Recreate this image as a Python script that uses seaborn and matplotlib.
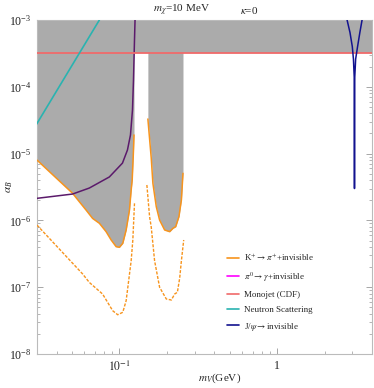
import matplotlib
matplotlib.use("Agg")
import matplotlib.pyplot as plt
from matplotlib.lines import Line2D
from matplotlib.ticker import LogLocator, NullFormatter, FixedLocator, FixedFormatter
import seaborn as sns
import numpy as np
import pandas as pd

sns.set_style("ticks")
plt.rcParams['font.family'] = ['Liberation Serif', 'DejaVu Serif']
plt.rcParams['mathtext.fontset'] = 'stix'

# K+ -> pi+ + invisible, solid bound (two pieces)
kaon_m1 = [0.030, 0.0504, 0.0556, 0.0614, 0.0676, 0.0746, 0.0823, 0.0886, 0.0953, 0.100,
           0.1050, 0.1103, 0.1158, 0.1187, 0.1205, 0.1228, 0.1237]
kaon_a1 = [8.0e-6, 2.55e-6, 1.91e-6, 1.43e-6, 1.07e-6, 9.05e-7, 6.78e-7, 5.09e-7, 4.04e-7, 3.96e-7,
           4.54e-7, 7.18e-7, 1.43e-6, 2.85e-6, 4.03e-6, 1.13e-5, 1.90e-5]
kaon_m2 = [0.1515, 0.1591, 0.1630, 0.1713, 0.1798, 0.1935, 0.2083, 0.2186, 0.2274, 0.2385,
           0.2472, 0.2530]
kaon_a2 = [3.30e-5, 8.59e-6, 3.59e-6, 1.60e-6, 1.01e-6, 7.18e-7, 6.78e-7, 7.62e-7, 8.05e-7, 1.14e-6,
           2.02e-6, 5.07e-6]

# K+ -> pi+ + invisible, dashed projection
proj_m1 = [0.030, 0.0584, 0.0644, 0.0782, 0.0906, 0.0975, 0.1050, 0.1103, 0.1187, 0.1216, 0.1246]
proj_a1 = [8.5e-7, 1.58e-7, 1.18e-7, 7.9e-8, 4.45e-8, 3.87e-8, 4.21e-8, 6.28e-8, 2.49e-7, 5.09e-7, 1.80e-6]
proj_m2 = [0.1493, 0.1553, 0.1591, 0.1671, 0.1798, 0.1983, 0.2135, 0.2240, 0.2331, 0.2411, 0.2472, 0.2557]
proj_a2 = [3.39e-6, 1.14e-6, 7.96e-7, 2.49e-7, 9.97e-8, 6.66e-8, 6.43e-8, 7.91e-8, 8.39e-8, 1.37e-7,
           2.49e-7, 5.09e-7]

# pi0 -> gamma + invisible
pion_m = [0.030, 0.0504, 0.0644, 0.0863, 0.1045, 0.1124, 0.1175, 0.1210, 0.1228, 0.1246, 0.1256]
pion_a = [2.14e-6, 2.48e-6, 3.05e-6, 4.47e-6, 7.2e-6, 1.13e-5, 1.9e-5, 4.5e-5, 1.26e-4, 5.0e-4, 1.0e-3]

# monojet (CDF)
monojet_m = [0.03, 4.0]
monojet_a = [3.16e-4, 3.16e-4]

# neutron scattering
neutron_m = [0.0296, 0.0746]
neutron_a = [2.68e-5, 1.0e-3]

# J/psi -> invisible
jpsi_m = [2.78, 2.90, 3.00, 3.05, 3.085, 3.096, 3.097, 3.098, 3.110, 3.15, 3.24, 3.35, 3.46]
jpsi_a = [1.0e-3, 6.5e-4, 4.0e-4, 2.6e-4, 1.4e-4, 3.0e-5, 3.0e-6, 3.0e-5, 1.4e-4, 2.6e-4, 4.0e-4,
          6.5e-4, 1.0e-3]

c_orange = '#F7941D'
c_magenta = '#FF00FF'
c_pink = '#F06A6A'
c_teal = '#2AB3B0'
c_navy = '#12128F'
c_purple = '#5B1A6B'
c_gray = '#ABABAB'

fig = plt.figure(figsize=(3.74, 3.88), dpi=100)
ax = fig.add_axes([37/374, 34/388, 335/374, 334/388])
ax.set_xscale('log')
ax.set_yscale('log')
ax.set_xlim(0.03, 4.0)
ax.set_ylim(1e-8, 1e-3)

# excluded regions
ax.axhspan(monojet_a[0], 1e-3, color=c_gray, lw=0, zorder=1)
low1 = [a for m, a in zip(pion_m, pion_a) if m < 0.0504] + kaon_a1
mx1 = [m for m in pion_m if m < 0.0504] + kaon_m1
ax.fill_between(mx1, low1, 1e-3, color=c_gray, lw=0, zorder=1)
ax.fill_between(kaon_m2, kaon_a2, 1e-3, color=c_gray, lw=0, zorder=1)

def draw(m, a, color, lw, ls='-'):
    df = pd.DataFrame({'m': m, 'a': a})
    sns.lineplot(data=df, x='m', y='a', ax=ax, sort=False, color=color, lw=lw,
                 linestyle=ls, zorder=3)

draw(kaon_m1, kaon_a1, c_orange, 1.1)
draw(kaon_m2, kaon_a2, c_orange, 1.1)
draw(proj_m1, proj_a1, c_orange, 1.0, (0, (2.2, 1.1)))
draw(proj_m2, proj_a2, c_orange, 1.0, (0, (2.2, 1.1)))
draw(pion_m, pion_a, c_purple, 1.1)
draw(monojet_m, monojet_a, c_pink, 1.3)
draw(neutron_m, neutron_a, c_teal, 1.2)
draw(jpsi_m, jpsi_a, c_navy, 1.1)

ax.set_xlabel('')
ax.set_ylabel('')

# frame and ticks
for s in ax.spines.values():
    s.set_color('#BBBBBB')
    s.set_linewidth(0.8)
ax.tick_params(which='both', direction='in', top=True, right=True, colors='#999999',
               labelcolor='#222222', labelsize=8.5)
ax.tick_params(which='major', length=4, width=0.6)
ax.tick_params(which='minor', length=2, width=0.5)
ax.tick_params(axis='y', pad=4)
ax.tick_params(axis='x', pad=4)
ax.yaxis.set_major_locator(LogLocator(base=10, numticks=10))
ax.yaxis.set_minor_locator(LogLocator(base=10, subs=np.arange(2, 10), numticks=20))
ax.yaxis.set_minor_formatter(NullFormatter())
ax.xaxis.set_major_locator(FixedLocator([0.1, 1.0]))
ax.xaxis.set_major_formatter(FixedFormatter([r'$10^{-1}$', '1']))
ax.xaxis.set_minor_locator(LogLocator(base=10, subs=np.arange(2, 10), numticks=20))
ax.xaxis.set_minor_formatter(NullFormatter())

# legend
handles = [Line2D([], [], color=c_orange, lw=1.2),
           Line2D([], [], color=c_magenta, lw=1.2),
           Line2D([], [], color=c_pink, lw=1.2),
           Line2D([], [], color=c_teal, lw=1.2),
           Line2D([], [], color=c_navy, lw=1.2)]
labels = [r'K$^{+}$$\rightarrow$$\pi^{+}$+invisible',
          r'$\pi^{0}$$\rightarrow$$\gamma$+invisible',
          'Monojet (CDF)',
          'Neutron Scattering',
          r'J/$\psi$$\rightarrow$invisible']
fig.legend(handles, labels, loc='upper left', bbox_to_anchor=(227/374, 1 - 252/388),
           frameon=False, fontsize=6.5, handlelength=1.3, handletextpad=0.6,
           labelspacing=0.75, borderpad=0, borderaxespad=0)

fig.text(153/374, 1 - 10/388, r'$m_{\chi}$=10 MeV', ha='left', va='center', fontsize=8)
fig.text(240/374, 1 - 10/388, r'$\kappa$=0', ha='left', va='center', fontsize=8)
fig.text(10/374, 1 - 187/388, r'$\alpha_B$', rotation=90, ha='center', va='center', fontsize=8)
fig.text(220/374, 1 - 378/388, r'$m_V$(GeV)', ha='center', va='center', fontsize=8)

fig.savefig('out.png', dpi=100)
